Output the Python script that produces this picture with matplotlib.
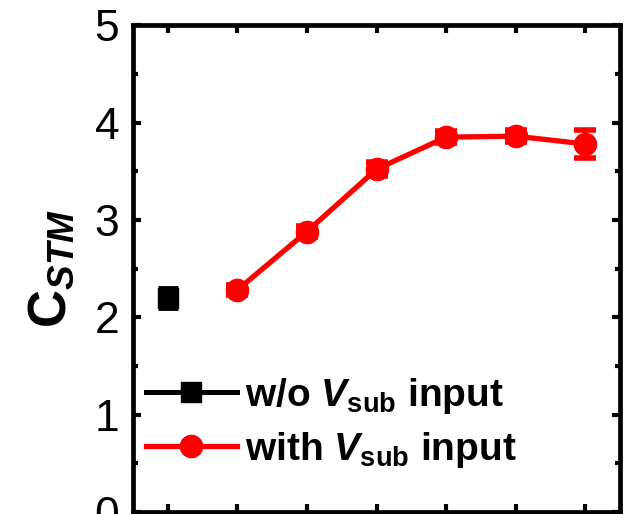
import matplotlib
matplotlib.use("Agg")
import matplotlib.pyplot as plt
from matplotlib.ticker import MultipleLocator
from matplotlib.lines import Line2D

plt.rcParams['font.family'] = ['Liberation Sans', 'DejaVu Sans']
plt.rcParams['mathtext.fontset'] = 'custom'
plt.rcParams['mathtext.rm'] = 'Liberation Sans'
plt.rcParams['mathtext.it'] = 'Liberation Sans:italic'
plt.rcParams['mathtext.bf'] = 'Liberation Sans:bold'
plt.rcParams['mathtext.bfit'] = 'Liberation Sans:bold:italic'
plt.rcParams['mathtext.sf'] = 'Liberation Sans'

# data
x_wo = [1]
y_wo = [2.20]
e_wo = [0.10]

x_with = [2, 3, 4, 5, 6, 7]
y_with = [2.28, 2.88, 3.52, 3.85, 3.86, 3.78]
e_with = [0.05, 0.06, 0.07, 0.06, 0.06, 0.14]

label_wo = r'w/o $\mathbfit{V}_{\mathbf{sub}}$ input'
label_with = r'with $\mathbfit{V}_{\mathbf{sub}}$ input'

fig = plt.figure(figsize=(6.38, 5.14), dpi=100)
ax = fig.add_axes([0.2085, 0.004, 0.7633, 0.947])

ax.errorbar(x_wo, y_wo, yerr=e_wo, color='black', marker='s', markersize=14,
            linewidth=3.6, elinewidth=3, capsize=7, capthick=3.5)
ax.errorbar(x_with, y_with, yerr=e_with, color='red', marker='o', markersize=16,
            linewidth=3.8, elinewidth=3, capsize=8, capthick=4)

ax.set_xlim(0.5, 7.5)
ax.set_ylim(0, 5)
ax.xaxis.set_major_locator(MultipleLocator(1))
ax.yaxis.set_major_locator(MultipleLocator(1))
ax.yaxis.set_minor_locator(MultipleLocator(0.5))

for s in ax.spines.values():
    s.set_linewidth(3.4)

ax.tick_params(which='both', direction='in', top=True, right=True, width=3)
ax.tick_params(which='major', length=6, labelsize=32, pad=10)
ax.tick_params(which='minor', length=3.5)
ax.tick_params(axis='x', labelbottom=False)

ax.set_ylabel(r'$\mathbf{C}_{\mathbfit{STM}}$', fontsize=38, labelpad=13)

handles = [
    Line2D([], [], color='black', marker='s', markersize=14, linewidth=3.6),
    Line2D([], [], color='red', marker='o', markersize=16, linewidth=3.8),
]
leg = ax.legend(handles, [label_wo, label_with], loc='lower left',
                bbox_to_anchor=(-0.006, 0.055), frameon=False,
                prop={'weight': 'bold', 'size': 28}, handlelength=2.35,
                handletextpad=0.2, labelspacing=0.36, borderaxespad=0.0)

fig.savefig('out.png', dpi=100)
